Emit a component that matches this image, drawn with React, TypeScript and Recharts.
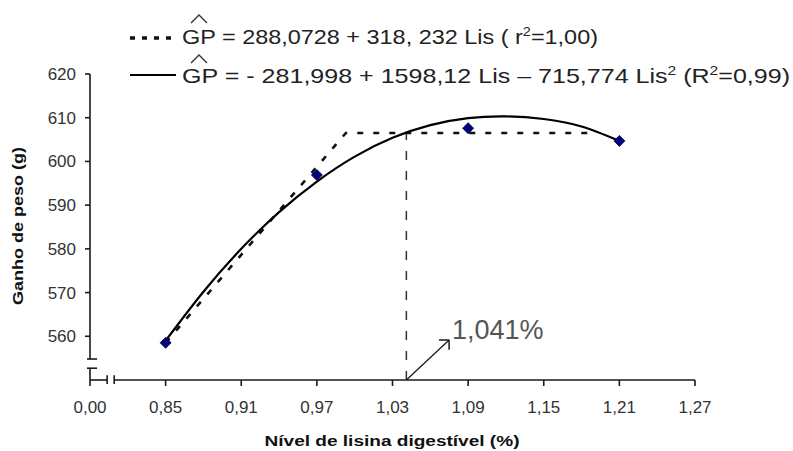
import React from "react";
import { ComposedChart, Line, Scatter, XAxis, YAxis, ReferenceLine } from "recharts";

// ---- data ----
const xTickValues = [0.79, 0.85, 0.91, 0.97, 1.03, 1.09, 1.15, 1.21, 1.27];
const xTickLabels = ["0,00", "0,85", "0,91", "0,97", "1,03", "1,09", "1,15", "1,21", "1,27"];
const yTickValues = [560, 570, 580, 590, 600, 610, 620];

const observedLys = [0.85, 0.97, 1.09, 1.21];
const observedGain = [558.5, 596.9, 607.6, 604.7];

const quadLys = [0.85, 0.88, 0.91, 0.94, 0.97, 1.0, 1.03, 1.06, 1.09, 1.12, 1.15, 1.18, 1.21];
const quadGain = [559.0, 570.2, 580.0, 588.4, 595.4, 601.1, 605.4, 608.3, 609.9, 610.3, 609.7, 608.0, 604.7];

const plateauLys = [0.85, 0.993, 1.19];
const plateauGain = [558.5, 606.5, 606.5];

const breakPointLys = 1.041;
const breakPointGain = 606.5;
const breakLabel = "1,041%";

const observed = observedLys.map((x, i) => ({ x, y: observedGain[i] }));
const quad = quadLys.map((x, i) => ({ x, y: quadGain[i] }));
const plateau = plateauLys.map((x, i) => ({ x, y: plateauGain[i] }));

const FONT = "'Liberation Sans', Arial, sans-serif";
const AX = "#1a1a1a";

const Diamond = (props: any) => {
  const { cx, cy } = props;
  const s = 5.5;
  return (
    <polygon
      points={`${cx},${cy - s} ${cx + s},${cy} ${cx},${cy + s} ${cx - s},${cy}`}
      fill="#000080"
      stroke="#000033"
      strokeWidth={0.8}
    />
  );
};

const fmtX = (v: number) => {
  const i = xTickValues.findIndex((t) => Math.abs(t - v) < 1e-6);
  return i >= 0 ? xTickLabels[i] : String(v);
};

const seg = (x1: number, y1: number, x2: number, y2: number, key: string, extra: any = {}) => (
  <ReferenceLine
    key={key}
    segment={[{ x: x1, y: y1 }, { x: x2, y: y2 }]}
    stroke={AX}
    strokeWidth={1.6}
    ifOverflow="visible"
    {...extra}
  />
);

export default function App() {
  return (
    <div style={{ position: "absolute", left: 0, top: 0, width: 793, height: 451, background: "#fff" }}>
      <ComposedChart
        width={793}
        height={451}
        margin={{ top: 74, right: 98, bottom: 31, left: 0 }}
        style={{ fontFamily: FONT }}
      >
        <XAxis
          dataKey="x"
          type="number"
          domain={[0.79, 1.27]}
          ticks={xTickValues}
          tickFormatter={fmtX}
          axisLine={false}
          tickLine={{ stroke: AX, strokeWidth: 1.6 }}
          tickSize={6}
          tickMargin={15}
          height={40}
          tick={{ fill: "#333", fontSize: 17, fontFamily: FONT }}
          allowDataOverflow
          interval={0}
        />
        <YAxis
          dataKey="y"
          type="number"
          domain={[550, 620]}
          ticks={yTickValues}
          axisLine={false}
          tickLine={{ stroke: AX, strokeWidth: 1.6 }}
          tickSize={5}
          tickMargin={9}
          width={90}
          tick={{ fill: "#333", fontSize: 17, fontFamily: FONT }}
          allowDataOverflow
          interval={0}
        />
        {/* y axis with break */}
        {seg(0.79, 554.8, 0.79, 620, "ya")}
        {seg(0.7876, 554.8, 0.7956, 554.8, "yb1")}
        {seg(0.7876, 552.7, 0.7956, 552.7, "yb2")}
        {seg(0.79, 550, 0.79, 552.7, "yc")}
        {/* x axis with break */}
        {seg(0.79, 550, 0.8036, 550, "xa")}
        {seg(0.8036, 551.1, 0.8036, 549.1, "xb1")}
        {seg(0.8092, 551.1, 0.8092, 549.1, "xb2")}
        {seg(0.8092, 550, 1.27, 550, "xc")}
        {/* vertical dashed line at break point */}
        {seg(breakPointLys, 550, breakPointLys, breakPointGain, "vd", {
          strokeDasharray: "9 11",
          strokeWidth: 1.5,
          stroke: "#333",
        })}
        {/* arrow */}
        {seg(breakPointLys, 550, 1.0749, 559.15, "ar", { strokeWidth: 1.3 })}
        {seg(1.0749, 559.15, 1.0669, 559.15, "ah1", { strokeWidth: 1.5 })}
        {seg(1.0749, 559.15, 1.0749, 556.9, "ah2", { strokeWidth: 1.5 })}
        <Line
          data={plateau}
          dataKey="y"
          type="linear"
          stroke="#111"
          strokeWidth={2.6}
          strokeDasharray="6 10"
          dot={false}
          isAnimationActive={false}
        />
        <Line
          data={quad}
          dataKey="y"
          type="natural"
          stroke="#000"
          strokeWidth={2.2}
          dot={false}
          isAnimationActive={false}
        />
        <Scatter data={observed} dataKey="y" shape={<Diamond />} isAnimationActive={false} />
      </ComposedChart>
      <svg
        width={793}
        height={451}
        style={{ position: "absolute", left: 0, top: 0, pointerEvents: "none", fontFamily: FONT }}
      >
        {/* legend */}
        <line x1={130} y1={38} x2={176} y2={38} stroke="#111" strokeWidth={3.5} strokeDasharray="5 7" />
        <polyline points="191,23 199,15 207,23" fill="none" stroke="#333" strokeWidth={1.4} />
        <text x={182} y={44} fontSize={21} fill="#222" textLength={416} lengthAdjust="spacingAndGlyphs">
          GP = 288,0728 + 318, 232 Lis ( r
          <tspan dy={-8} fontSize={13}>2</tspan>
          <tspan dy={8}>=1,00)</tspan>
        </text>
        <line x1={130} y1={75} x2={176} y2={75} stroke="#000" strokeWidth={2.2} />
        <polyline points="191,63 199,55 207,63" fill="none" stroke="#333" strokeWidth={1.4} />
        <text x={182} y={83} fontSize={21} fill="#222" textLength={608} lengthAdjust="spacingAndGlyphs">
          GP = - 281,998 + 1598,12 Lis – 715,774 Lis
          <tspan dy={-8} fontSize={13}>2</tspan>
          <tspan dy={8}> (R</tspan>
          <tspan dy={-8} fontSize={13}>2</tspan>
          <tspan dy={8}>=0,99)</tspan>
        </text>
        {/* annotation */}
        <text x={452} y={339} fontSize={27} fill="#555">
          {breakLabel}
        </text>
        {/* axis titles */}
        <text
          x={392}
          y={446}
          textAnchor="middle"
          fontSize={14}
          fontWeight="bold"
          fill="#111"
          textLength={255}
          lengthAdjust="spacingAndGlyphs"
        >
          Nível de lisina digestível (%)
        </text>
        <text
          transform="translate(23,226) rotate(-90)"
          textAnchor="middle"
          fontSize={15}
          fontWeight="bold"
          fill="#111"
          textLength={158}
          lengthAdjust="spacingAndGlyphs"
        >
          Ganho de peso (g)
        </text>
      </svg>
    </div>
  );
}
